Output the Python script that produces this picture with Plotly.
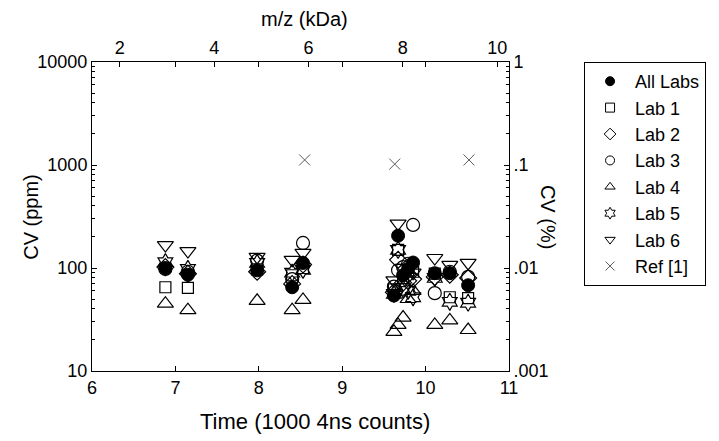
import plotly.graph_objects as go

# ---- data ----
peak_time = [6.88, 7.15, 7.98, 8.40, 8.53, 9.62, 9.67, 9.73, 9.79, 9.85, 10.11, 10.29, 10.51]
all_labs = [100, 86, 95, 65, 112, 54, 206, 85, 98, 113, 89, 89, 68]
lab1 = [65, 64, 97, 85, 100, 62, 150, 80, 95, 92, 88, 52, 51]
lab2 = [102, 88, 92, 70, 108, 58, 120, 72, 75, 78, 82, 86, 80]
lab3 = [98, 92, 118, 78, 175, 66, 95, 102, 110, 262, 57, 92, 82]
lab4 = [45, 39, 48, 39, 49, 24, 28, 33, 50, 60, 28, 31, 25]
lab5 = [114, 98, 112, 90, 96, 56, 150, 62, 60, 52, 80, 47, 46]
lab6 = [167, 146, 128, 120, 140, 76, 270, 100, 82, 90, 125, 107, 112]
ref_time = [8.55, 9.63, 10.52]
ref_cv = [1120, 1020, 1120]

y_ticks = [10, 100, 1000, 10000]
y_ticklabels = ["10", "100", "1000", "10000"]
pct_ticks = [0.001, 0.01, 0.1, 1]
pct_ticklabels = [".001", ".01", ".1", "1"]
mz_ticks = [2, 4, 6, 8, 10]
time_ticks = [6, 7, 8, 9, 10, 11]

FONT = "Liberation Sans, Arial, sans-serif"
BLACK = "black"
GREY = "#5a5a5a"
TICK_SIZE = 18
TITLE_SIZE = 20

series = [
    ("Lab 1", lab1, "square-open", 11, BLACK),
    ("Lab 2", lab2, "diamond-open", 13, BLACK),
    ("Lab 3", lab3, "circle-open", 13, BLACK),
    ("Lab 4", lab4, "triangle-up-open", 14, BLACK),
    ("Lab 5", lab5, "hexagram-open", 13, BLACK),
    ("Lab 6", lab6, "triangle-down-open", 14, BLACK),
]

fig = go.Figure()

# plotted marks
for name, vals, sym, size, col in series:
    fig.add_trace(go.Scatter(
        x=peak_time, y=vals, mode="markers", name=name, showlegend=False,
        marker=dict(symbol=sym, size=size, color=col, line=dict(width=1.2, color=col)),
    ))
fig.add_trace(go.Scatter(
    x=peak_time, y=all_labs, mode="markers", name="All Labs", showlegend=False,
    marker=dict(symbol="circle", size=13, color=BLACK, line=dict(width=1, color=BLACK)),
))
fig.add_trace(go.Scatter(
    x=ref_time, y=ref_cv, mode="markers", name="Ref [1]", showlegend=False,
    marker=dict(symbol="x-thin-open", size=11, color=GREY, line=dict(width=1, color=GREY)),
))

# legend entries (small symbols like the reference)
legend_items = [("All Labs", "circle", BLACK)] + [(n, s, c) for n, _, s, _, c in series] + [("Ref [1]", "x-thin-open", GREY)]
for i, (name, sym, col) in enumerate(legend_items):
    fig.add_trace(go.Scatter(
        x=[None], y=[None], mode="markers", name=name,
        marker=dict(symbol=sym, size=9, color=col, line=dict(width=1, color=col)),
    ))

# dummy trace for the secondary (top/right) axes
fig.add_trace(go.Scatter(x=[None], y=[None], xaxis="x2", yaxis="y2", showlegend=False, hoverinfo="skip"))

minor_ppm = [m * 10 ** k for k in range(1, 4) for m in range(2, 10)]
minor_pct = [m * 10 ** k for k in range(-3, 0) for m in range(2, 10)]

axis_common = dict(showgrid=False, zeroline=False, showline=True, linecolor=BLACK, linewidth=1,
                   ticks="inside", ticklen=5, tickcolor=BLACK,
                   tickfont=dict(family=FONT, size=TICK_SIZE, color=BLACK))

fig.update_layout(
    width=719, height=441,
    margin=dict(l=92, r=210, t=62, b=70),
    paper_bgcolor="white", plot_bgcolor="white",
    font=dict(family=FONT, size=TICK_SIZE, color=BLACK),
    xaxis=dict(range=[6, 11], tickmode="array", tickvals=time_ticks, mirror="ticks", **axis_common),
    yaxis=dict(type="log", range=[1, 4], tickmode="array", tickvals=y_ticks, ticktext=y_ticklabels,
               mirror=True,
               minor=dict(tickmode="array", tickvals=minor_ppm, ticks="inside", ticklen=3, tickcolor=BLACK),
               **axis_common),
    xaxis2=dict(overlaying="x", side="top", anchor="y", range=[1.41, 10.25], tickmode="array",
                tickvals=mz_ticks, **axis_common),
    yaxis2=dict(overlaying="y", side="right", anchor="x", type="log", range=[-3, 0], tickmode="array",
                tickvals=pct_ticks, ticktext=pct_ticklabels,
                minor=dict(tickmode="array", tickvals=minor_pct, ticks="inside", ticklen=3, tickcolor=BLACK),
                **axis_common),
    legend=dict(x=1.18, xanchor="left", y=1.0, yanchor="top", bordercolor=BLACK, borderwidth=1,
                bgcolor="white", font=dict(family=FONT, size=18, color=BLACK), tracegroupgap=0,
                itemwidth=40),
    showlegend=True,
    annotations=[
        dict(text="Time (1000 4ns counts)", xref="paper", yref="paper", x=0.535, y=-0.165,
             xanchor="center", yanchor="middle", showarrow=False, font=dict(family=FONT, size=22)),
        dict(text="m/z (kDa)", xref="paper", yref="paper", x=0.51, y=1.14,
             xanchor="center", yanchor="middle", showarrow=False, font=dict(family=FONT, size=TITLE_SIZE)),
        dict(text="CV (ppm)", xref="paper", yref="paper", x=-0.148, y=0.5, textangle=-90,
             xanchor="center", yanchor="middle", showarrow=False, font=dict(family=FONT, size=TITLE_SIZE)),
        dict(text="CV (%)", xref="paper", yref="paper", x=1.095, y=0.5, textangle=90,
             xanchor="center", yanchor="middle", showarrow=False, font=dict(family=FONT, size=TITLE_SIZE)),
    ],
)

fig.write_html("out.html", config={"displayModeBar": False},
               post_script="document.body.style.margin='0';")
